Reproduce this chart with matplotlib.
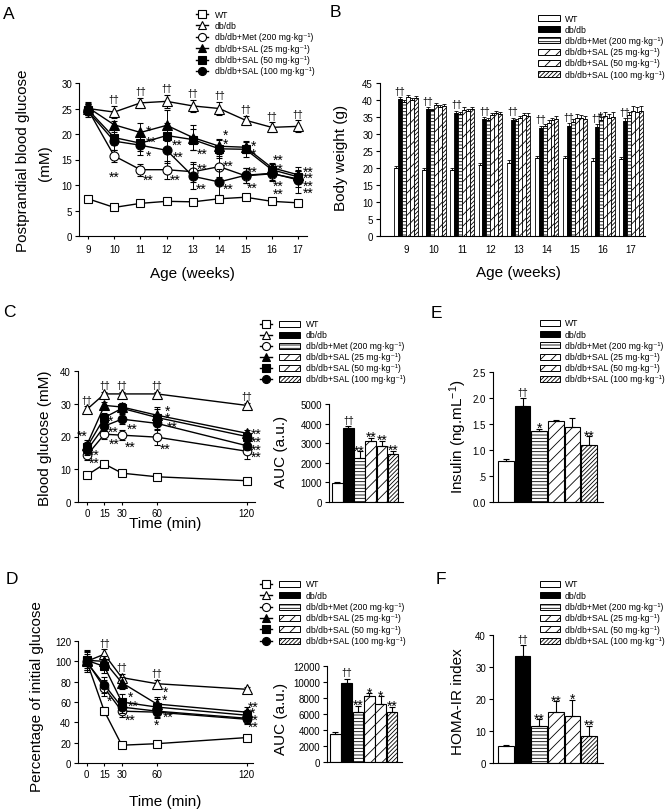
import numpy as np
import matplotlib
matplotlib.use("Agg")
import matplotlib.pyplot as plt
from matplotlib.patches import Rectangle

plt.rcParams['font.family'] = ['Liberation Sans', 'DejaVu Sans']
plt.rcParams['mathtext.fontset'] = 'custom'
plt.rcParams['mathtext.rm'] = 'Liberation Sans'
plt.rcParams['mathtext.it'] = 'Liberation Sans:italic'
plt.rcParams['mathtext.bf'] = 'Liberation Sans:bold'
plt.rcParams['hatch.linewidth'] = 0.6
plt.rcParams['axes.linewidth'] = 0.8

# ---------------- data ----------------
groups = ['WT', 'db/db', 'db/db+Met (200 mg·kg⁻¹)', 'db/db+SAL (25 mg·kg⁻¹)',
          'db/db+SAL (50 mg·kg⁻¹)', 'db/db+SAL (100 mg·kg⁻¹)']

weeks = [9, 10, 11, 12, 13, 14, 15, 16, 17]
A_wt = [7.3, 5.6, 6.4, 6.8, 6.7, 7.3, 7.6, 6.8, 6.5]
A_db = [25.0, 24.3, 26.1, 26.4, 25.5, 25.0, 22.7, 21.3, 21.5]
A_met = [24.8, 15.7, 13.0, 13.0, 12.6, 13.6, 11.8, 12.2, 11.2]
A_s25 = [25.2, 21.8, 20.3, 21.7, 19.3, 17.6, 17.4, 13.4, 12.0]
A_s50 = [24.8, 19.3, 18.2, 19.7, 18.9, 17.1, 17.0, 13.0, 11.6]
A_s100 = [24.5, 18.6, 17.8, 16.8, 11.7, 10.6, 11.9, 12.3, 11.0]
A_wt_err = [0.5, 0.4, 0.4, 0.4, 0.4, 0.5, 0.5, 0.4, 0.4]
A_db_err = [1.0, 1.2, 1.0, 1.3, 1.2, 1.3, 0.9, 1.0, 1.2]
A_met_err = [1.0, 1.2, 1.2, 1.8, 2.0, 2.0, 1.5, 1.2, 1.5]
A_s25_err = [1.0, 0.8, 1.8, 3.0, 2.5, 1.5, 1.2, 1.0, 1.0]
A_s50_err = [1.0, 1.5, 1.5, 2.5, 2.0, 1.8, 1.5, 1.2, 1.2]
A_s100_err = [1.2, 1.8, 2.0, 2.5, 2.5, 2.5, 1.5, 1.5, 2.5]

B_wt = [20.0, 19.5, 19.5, 21.0, 21.5, 22.8, 22.8, 22.2, 22.7]
B_db = [40.2, 37.4, 36.2, 34.4, 34.0, 31.8, 32.5, 32.0, 33.8]
B_met = [39.3, 37.0, 35.8, 34.0, 33.8, 32.3, 33.5, 34.2, 35.5]
B_s25 = [41.0, 38.6, 37.2, 35.6, 34.6, 33.3, 34.8, 35.2, 36.7]
B_s50 = [40.0, 37.8, 36.8, 36.2, 35.5, 34.0, 34.7, 34.8, 36.6]
B_s100 = [40.6, 38.3, 37.3, 35.8, 35.3, 34.3, 34.3, 35.0, 36.8]
B_wt_err = [0.6, 0.6, 0.6, 0.6, 0.9, 0.8, 0.7, 0.8, 0.6]
B_db_err = [0.6, 0.5, 0.6, 0.6, 0.8, 0.7, 0.7, 0.8, 0.8]
B_met_err = [0.6, 0.5, 0.6, 0.6, 0.6, 0.7, 0.8, 0.8, 0.9]
B_s25_err = [0.5, 0.6, 0.6, 0.6, 0.8, 0.8, 1.0, 1.2, 1.5]
B_s50_err = [0.6, 0.6, 0.6, 0.7, 0.8, 0.8, 1.0, 1.2, 1.2]
B_s100_err = [0.6, 0.6, 0.7, 0.7, 0.9, 0.9, 1.0, 1.5, 1.5]

times = [0, 15, 30, 60, 120]
C_wt = [8.2, 11.6, 8.8, 7.7, 6.5]
C_db = [28.3, 33.0, 33.0, 33.0, 29.5]
C_met = [14.3, 20.7, 20.4, 19.8, 15.5]
C_s25 = [17.5, 29.5, 29.0, 26.5, 21.0]
C_s50 = [16.8, 25.8, 28.6, 25.8, 20.0]
C_s100 = [15.8, 23.2, 25.3, 24.0, 17.2]
C_wt_err = [0.6, 1.0, 0.6, 0.5, 0.5]
C_db_err = [1.0, 0.6, 0.6, 0.6, 0.8]
C_met_err = [1.5, 1.5, 1.5, 2.5, 2.5]
C_s25_err = [1.5, 1.0, 1.2, 2.5, 1.0]
C_s50_err = [1.5, 1.5, 1.5, 2.5, 1.2]
C_s100_err = [1.5, 1.5, 1.5, 2.0, 1.2]
C_auc = [980, 3800, 2230, 3090, 2870, 2460]
C_auc_err = [50, 60, 380, 200, 260, 160]

D_wt = [100, 51, 17.5, 19, 25]
D_db = [100, 107, 84, 78, 72.5]
D_met = [100, 74, 51, 50, 43]
D_s25 = [101, 100, 79, 58, 50]
D_s50 = [101, 95, 60, 55, 47]
D_s100 = [99, 77, 55, 51, 44]
D_wt_err = [3, 4, 2, 2, 2]
D_db_err = [4, 5, 4, 4, 2]
D_met_err = [10, 8, 6, 6, 5]
D_s25_err = [8, 5, 6, 7, 5]
D_s50_err = [10, 6, 8, 8, 5]
D_s100_err = [8, 8, 6, 6, 5]
D_auc = [3500, 9900, 6200, 8200, 7300, 6200]
D_auc_err = [250, 500, 850, 400, 950, 700]

E_ins = [0.78, 1.85, 1.37, 1.55, 1.44, 1.10]
E_ins_err = [0.05, 0.15, 0.04, 0.02, 0.18, 0.16]
F_homa = [5.3, 33.3, 11.7, 15.8, 14.8, 8.5]
F_homa_err = [0.4, 3.5, 2.0, 3.5, 5.0, 3.2]

# significance marks
A_marks = [(10, 12.6, '**', 'center'),
           (11.2, 21.6, '*', 'left'), (11.2, 19.4, '**', 'left'), (11.2, 16.7, '*', 'left'), (11.1, 12.0, '**', 'left'),
           (12.2, 18.8, '**', 'left'), (12.25, 16.4, '**', 'left'), (12.1, 12.0, '**', 'left'),
           (13.15, 17.1, '**', 'left'), (13.15, 14.1, '**', 'left'), (13.1, 10.2, '**', 'left'),
           (14.15, 20.8, '*', 'left'), (14.15, 19.0, '*', 'left'), (14.15, 14.7, '**', 'left'), (14.15, 10.2, '**', 'left'),
           (15.2, 18.6, '*', 'left'), (15.2, 17.0, '*', 'left'), (15.05, 13.5, '**', 'left'), (15.05, 10.4, '**', 'left'),
           (16.05, 15.9, '**', 'left'), (16.05, 14.2, '**', 'left'), (16.05, 10.8, '**', 'left'), (16.05, 9.3, '**', 'left'),
           (17.2, 13.5, '**', 'left'), (17.2, 12.4, '**', 'left'), (17.2, 10.8, '**', 'left'), (17.2, 9.5, '**', 'left')]
C_marks = [(-3.9, 21.8, '**', 'center'), (1.5, 16.0, '**', 'left'), (1.5, 13.4, '**', 'left'),
           (17.5, 26.2, '*', 'left'), (17.5, 22.9, '**', 'left'), (19, 19.2, '**', 'left'),
           (34, 23.8, '**', 'left'), (32.5, 18.2, '**', 'left'),
           (65, 29.3, '*', 'left'), (65, 27.3, '*', 'left'), (66.5, 24.4, '**', 'left'), (62, 17.6, '**', 'left'),
           (123, 22.2, '**', 'left'), (123, 19.8, '**', 'left'), (123, 17.3, '**', 'left'), (123, 15.2, '**', 'left')]
D_marks = [(17, 66, '*', 'left'),
           (35, 70, '*', 'left'), (35.5, 61.3, '**', 'left'), (32.5, 47.2, '**', 'left'),
           (64, 74.4, '*', 'left'), (63, 66.9, '*', 'left'), (64, 50, '**', 'left'), (60, 42, '*', 'center'),
           (121, 59.7, '**', 'left'), (122.5, 54, '*', 'left'), (121, 47.2, '**', 'left'), (121, 40, '**', 'left')]
C_auc_marks = ['', '††', '**', '**', '**', '**']
D_auc_marks = ['', '††', '**', '*', '*', '**']
E_marks = ['', '††', '*', '', '', '**']
F_marks = ['', '††', '**', '**', '*', '**']

# ---------------- styles ----------------
line_styles = [('s', 'white'), ('^', 'white'), ('o', 'white'),
               ('^', 'black'), ('s', 'black'), ('o', 'black')]
bar_styles = [('white', ''), ('black', ''), ('white', '-----'),
              ('white', '///'), ('white', '///'), ('white', '////////')]

STAR = 10
DAG = 7

W, H = 666, 812
fig = plt.figure(figsize=(W / 100, H / 100), dpi=100)


def px_axes(x0, y0, x1, y1):
    ax = fig.add_axes([x0 / W, 1 - y1 / H, (x1 - x0) / W, (y1 - y0) / H])
    ax.spines['top'].set_visible(False)
    ax.spines['right'].set_visible(False)
    ax.tick_params(direction='out', length=3, width=0.8, labelsize=7, pad=2)
    return ax


def draw_lines(ax, x, ys, es, ms=6.5):
    for k, (y, e) in enumerate(zip(ys, es)):
        m, fc = line_styles[k]
        size = ms * (1.1 if m == '^' else (0.9 if m == 's' else 1.0))
        ax.errorbar(x, y, yerr=e, color='black', lw=1.0, marker=m, ms=size, mfc=fc,
                    mec='black', mew=0.8, capsize=2, elinewidth=0.7, capthick=0.7,
                    zorder=3 + k)


def star(ax, x, y, s, ha='left'):
    ax.annotate(s, (x, y), xytext=(0, -3.5), textcoords='offset points', ha=ha,
                va='center', fontsize=STAR, zorder=20)


def dagger_above(ax, x, ys, es, s='††'):
    for xi, yi, ei in zip(x, ys, es):
        ax.annotate(s, (xi, yi + ei), xytext=(0, 2.5), textcoords='offset points',
                    ha='center', va='baseline', fontsize=DAG, zorder=20)


def draw_bars(ax, vals, errs, marks, width=0.94):
    x = np.arange(len(vals))
    for k in range(len(vals)):
        fc, h = bar_styles[k]
        ax.bar(x[k], vals[k], width=width, color=fc, edgecolor='black', hatch=h, lw=0.8, zorder=2)
        ax.errorbar(x[k], vals[k], yerr=[[0], [errs[k]]], color='black', lw=0.8,
                    capsize=2, capthick=0.8, zorder=3)
        if marks[k]:
            if marks[k] == '††':
                ax.annotate(marks[k], (x[k], vals[k] + errs[k]), xytext=(0, 2.5),
                            textcoords='offset points', ha='center', va='baseline', fontsize=DAG)
            else:
                ax.annotate(marks[k], (x[k], vals[k] + errs[k]), xytext=(0, -2.5),
                            textcoords='offset points', ha='center', va='baseline', fontsize=STAR)
    ax.set_xticks([])
    ax.set_xlim(-0.5 - 0.25, len(vals) - 0.5 + 0.4)


def fwd(t):
    t = np.asarray(t, dtype=float)
    return np.where(t <= 60, t, 60 + (t - 60) * 1.28)


def inv(f):
    f = np.asarray(f, dtype=float)
    return np.where(f <= 60, f, 60 + (f - 60) / 1.28)


# ---------------- Panel A ----------------
axA = px_axes(79, 84, 307, 237)
draw_lines(axA, weeks, [A_wt, A_db, A_met, A_s25, A_s50, A_s100],
           [A_wt_err, A_db_err, A_met_err, A_s25_err, A_s50_err, A_s100_err], ms=6.5)
axA.set_xlim(8.66, 17.34)
axA.set_ylim(0, 30)
axA.set_xticks(weeks)
axA.set_yticks([0, 5, 10, 15, 20, 25, 30])
axA.tick_params(axis='x', length=2, pad=4)
dagger_above(axA, weeks[1:], A_db[1:], A_db_err[1:])
for x, y, s, ha in A_marks:
    star(axA, x, y, s, ha)

# ---------------- Panel B ----------------
axB = px_axes(380, 84, 645, 237)
bw = 0.14
wk = np.array(weeks, dtype=float)
B_vals = [B_wt, B_db, B_met, B_s25, B_s50, B_s100]
B_errs = [B_wt_err, B_db_err, B_met_err, B_s25_err, B_s50_err, B_s100_err]
for k in range(6):
    fc, h = bar_styles[k]
    xs = wk + (k - 2.5) * bw
    axB.bar(xs, B_vals[k], width=bw, color=fc, edgecolor='black', hatch=h, lw=0.6, zorder=2)
    axB.errorbar(xs, B_vals[k], yerr=[np.zeros(len(weeks)), B_errs[k]], fmt='none',
                 ecolor='black', elinewidth=0.6, capsize=1.3, capthick=0.6, zorder=3)
dagger_above(axB, wk + (1 - 2.5) * bw, B_db, B_db_err)
axB.annotate('*', (16 + (2 - 2.5) * bw, B_met[7] + B_met_err[7]), xytext=(0, -2.5),
             textcoords='offset points', ha='center', va='baseline', fontsize=STAR)
axB.set_xlim(8.076, 17.5)
axB.set_ylim(0, 45)
axB.set_xticks(weeks)
axB.set_yticks(range(0, 46, 5))
axB.tick_params(axis='x', length=0, pad=6)

# ---------------- Panel C ----------------
axC = px_axes(78, 372, 255, 503)
axC.set_xscale('function', functions=(fwd, inv))
draw_lines(axC, times, [C_wt, C_db, C_met, C_s25, C_s50, C_s100],
           [C_wt_err, C_db_err, C_met_err, C_s25_err, C_s50_err, C_s100_err], ms=6.2)
axC.set_xlim(-7.7, 125.6)
axC.set_ylim(0, 40)
axC.set_xticks(times)
axC.set_xticklabels([str(t) for t in times])
axC.minorticks_off()
axC.set_yticks([0, 10, 20, 30, 40])
axC.tick_params(axis='x', length=2, pad=2)
dagger_above(axC, times, C_db, C_db_err)
for x, y, s, ha in C_marks:
    star(axC, x, y, s, ha)

axCa = px_axes(329, 405, 403, 503)
draw_bars(axCa, C_auc, C_auc_err, C_auc_marks)
axCa.set_ylim(0, 5000)
axCa.set_yticks(range(0, 5001, 1000))

# ---------------- Panel D ----------------
axD = px_axes(78, 642, 253, 764)
axD.set_xscale('function', functions=(fwd, inv))
draw_lines(axD, times, [D_wt, D_db, D_met, D_s25, D_s50, D_s100],
           [D_wt_err, D_db_err, D_met_err, D_s25_err, D_s50_err, D_s100_err], ms=6.2)
axD.set_xlim(-7.5, 124.3)
axD.set_ylim(0, 120)
axD.set_xticks(times)
axD.set_xticklabels([str(t) for t in times])
axD.minorticks_off()
axD.set_yticks(range(0, 121, 20))
axD.tick_params(axis='x', length=2, pad=2)
dagger_above(axD, times[1:4], D_db[1:4], D_db_err[1:4])
for x, y, s, ha in D_marks:
    star(axD, x, y, s, ha)

axDa = px_axes(327, 667, 402, 763)
draw_bars(axDa, D_auc, D_auc_err, D_auc_marks)
axDa.set_ylim(0, 12000)
axDa.set_yticks(range(0, 12001, 2000))

# ---------------- Panel E ----------------
axE = px_axes(493, 373, 603, 503)
draw_bars(axE, E_ins, E_ins_err, E_marks)
axE.set_xlim(-0.8, 5.86)
axE.set_ylim(0, 2.5)
axE.set_yticks([0, 0.5, 1.0, 1.5, 2.0, 2.5])
axE.set_yticklabels(['0.0', '.5', '1.0', '1.5', '2.0', '2.5'])

# ---------------- Panel F ----------------
axF = px_axes(493, 636, 603, 764)
draw_bars(axF, F_homa, F_homa_err, F_marks)
axF.set_xlim(-0.8, 5.86)
axF.set_ylim(0, 40)
axF.set_yticks([0, 10, 20, 30, 40])

# ---------------- overlay: labels & legends ----------------
ov = fig.add_axes([0, 0, 1, 1], zorder=10)
ov.set_xlim(0, W)
ov.set_ylim(H, 0)
ov.axis('off')
ov.patch.set_alpha(0)

for letter, x, y in [('A', 3, 7), ('B', 330, 5), ('C', 3, 305), ('E', 431, 306),
                     ('D', 6, 572), ('F', 436, 572)]:
    ov.text(x, y, letter, fontsize=12.5, ha='left', va='top')

LF = 11
ov.text(23, 161, 'Postprandial blood glucose', rotation=90, ha='center', va='center', fontsize=LF)
ov.text(45, 163, '(mM)', rotation=90, ha='center', va='center', fontsize=LF)
ov.text(192, 274, 'Age (weeks)', ha='center', va='center', fontsize=LF)
ov.text(341, 158, 'Body weight (g)', rotation=90, ha='center', va='center', fontsize=LF)
ov.text(518, 273, 'Age (weeks)', ha='center', va='center', fontsize=LF)
ov.text(45, 438, 'Blood glucose (mM)', rotation=90, ha='center', va='center', fontsize=LF)
ov.text(165, 524, 'Time (min)', ha='center', va='center', fontsize=LF)
ov.text(281, 452, 'AUC (a.u.)', rotation=90, ha='center', va='center', fontsize=LF)
ov.text(458, 437, 'Insulin (ng.mL$^{-1}$)', rotation=90, ha='center', va='center', fontsize=LF)
ov.text(37, 697, 'Percentage of initial glucose', rotation=90, ha='center', va='center', fontsize=LF)
ov.text(165, 802, 'Time (min)', ha='center', va='center', fontsize=LF)
ov.text(281, 719, 'AUC (a.u.)', rotation=90, ha='center', va='center', fontsize=LF)
ov.text(458, 702, 'HOMA-IR index', rotation=90, ha='center', va='center', fontsize=LF)


def legend(y0, dy, text_x, mark_x=None, patch_x=None):
    for k, lab in enumerate(groups):
        y = y0 + k * dy
        if mark_x is not None:
            m, fc = line_styles[k]
            ov.plot([mark_x - 6, mark_x + 6], [y, y], color='black', lw=1.0)
            ov.plot([mark_x], [y], marker=m, ms=5.8 if m != 's' else 5.3, mfc=fc,
                    mec='black', mew=0.8)
        if patch_x is not None:
            fc, h = bar_styles[k]
            ov.add_patch(Rectangle((patch_x[0], y - 3), patch_x[1] - patch_x[0], 6,
                                   facecolor=fc, edgecolor='black', hatch=h, lw=0.7))
        ov.text(text_x, y, lab, fontsize=6.2, va='center', ha='left',
                family=['Liberation Sans', 'DejaVu Sans'])


legend(15, 11.4, 215, mark_x=201.5)
legend(19, 11.2, 565, patch_x=(538, 560))
legend(325, 11.0, 306, mark_x=266, patch_x=(279, 300))
legend(585, 11.3, 306, mark_x=266, patch_x=(279, 300))
legend(324, 11.2, 565, patch_x=(540, 560))
legend(585, 11.3, 565, patch_x=(540, 560))

fig.savefig('out.png', dpi=100)
